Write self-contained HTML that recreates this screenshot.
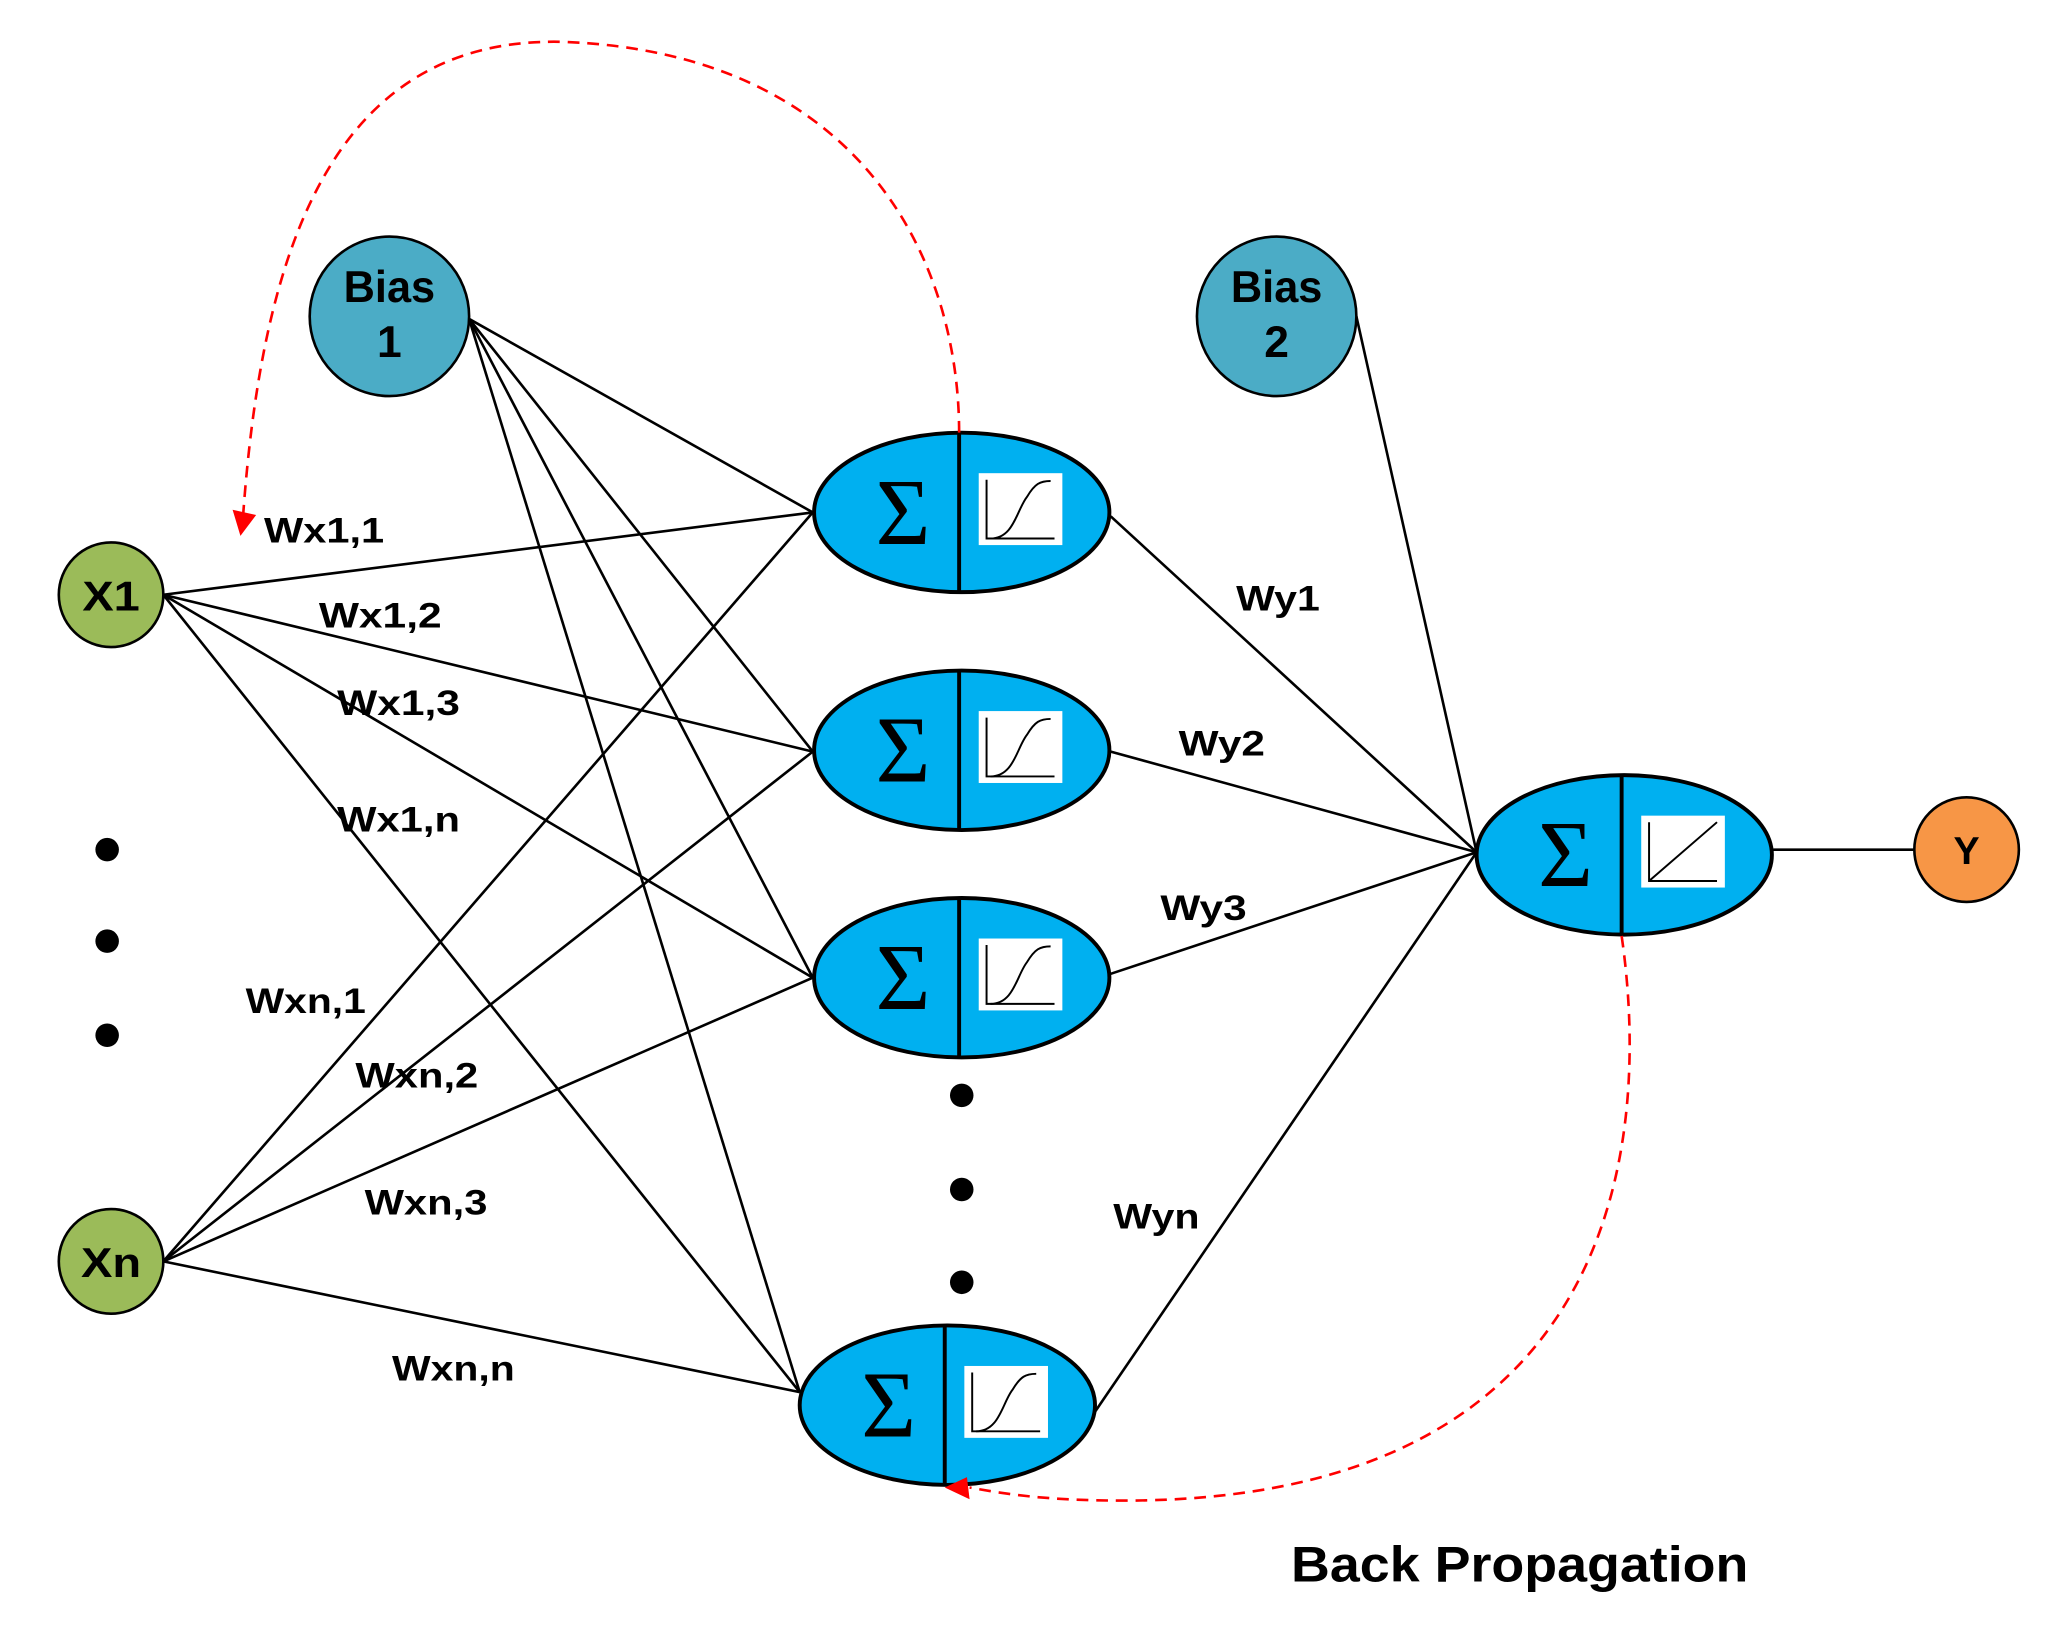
<!DOCTYPE html>
<html><head><meta charset="utf-8"><style>html,body{margin:0;padding:0;background:#fff}svg{display:block}</style></head>
<body>
<svg width="2045" height="1630" viewBox="0 0 1565 1247" preserveAspectRatio="none" xmlns="http://www.w3.org/2000/svg" font-family="Liberation Sans, sans-serif" font-weight="bold">
<g stroke="#000" stroke-width="2" fill="none">
<line x1="359" y1="244" x2="622" y2="392"/>
<line x1="359" y1="244" x2="622" y2="575"/>
<line x1="359" y1="244" x2="622" y2="748"/>
<line x1="359" y1="244" x2="612" y2="1065"/>
<line x1="125" y1="455" x2="622" y2="392"/>
<line x1="125" y1="455" x2="622" y2="575"/>
<line x1="125" y1="455" x2="622" y2="748"/>
<line x1="125" y1="455" x2="612" y2="1065"/>
<line x1="125" y1="965" x2="622" y2="392"/>
<line x1="125" y1="965" x2="622" y2="575"/>
<line x1="125" y1="965" x2="622" y2="748"/>
<line x1="125" y1="965" x2="612" y2="1065"/>
<line x1="850" y1="395" x2="1130" y2="652"/>
<line x1="850" y1="575" x2="1130" y2="652"/>
<line x1="850" y1="745" x2="1130" y2="652"/>
<line x1="838" y1="1080" x2="1130" y2="652"/>
<line x1="1038" y1="242" x2="1130" y2="652"/>
<line x1="1357" y1="650" x2="1465" y2="650"/>
</g>
<g stroke="#000" stroke-width="2">
<circle cx="298" cy="242" r="61" fill="#4bacc6"/>
<circle cx="977" cy="242" r="61" fill="#4bacc6"/>
<circle cx="85" cy="455" r="40" fill="#9bbb59"/>
<circle cx="85" cy="965" r="40" fill="#9bbb59"/>
<circle cx="1505" cy="650" r="40" fill="#f79646"/>
</g>
<g fill="#000">
<circle cx="82" cy="650" r="9"/><circle cx="82" cy="720" r="9"/><circle cx="82" cy="792" r="9"/>
<circle cx="736" cy="838" r="9"/><circle cx="736" cy="910" r="9"/><circle cx="736" cy="981" r="9"/>
</g>
<defs>
<g id="neu">
<ellipse cx="0" cy="0" rx="113" ry="61" fill="#00b0f0" stroke="#000" stroke-width="3"/>
<line x1="-2" y1="-61" x2="-2" y2="61" stroke="#000" stroke-width="3"/>
<text x="-45" y="24" font-family="Liberation Serif, serif" font-weight="normal" font-size="72" text-anchor="middle" fill="#000">Σ</text>
<rect x="13" y="-30" width="64" height="55" fill="#fff"/>
<path d="M19,-25 V20 H71" stroke="#000" stroke-width="1.5" fill="none"/>
</g>
</defs>
<g transform="translate(736,392)"><use href="#neu"/><path d="M22,20 C40,20 42,-2 50,-12 C56,-22 60,-24 68,-24" stroke="#000" stroke-width="1.5" fill="none"/></g>
<g transform="translate(736,574)"><use href="#neu"/><path d="M22,20 C40,20 42,-2 50,-12 C56,-22 60,-24 68,-24" stroke="#000" stroke-width="1.5" fill="none"/></g>
<g transform="translate(736,748)"><use href="#neu"/><path d="M22,20 C40,20 42,-2 50,-12 C56,-22 60,-24 68,-24" stroke="#000" stroke-width="1.5" fill="none"/></g>
<g transform="translate(725,1075)"><use href="#neu"/><path d="M22,20 C40,20 42,-2 50,-12 C56,-22 60,-24 68,-24" stroke="#000" stroke-width="1.5" fill="none"/></g>
<g transform="translate(1243,654)"><use href="#neu"/><line x1="19" y1="20" x2="71" y2="-25" stroke="#000" stroke-width="1.5"/></g>
<g fill="none" stroke="#ff0000" stroke-width="2" stroke-dasharray="9,6">
<path d="M734,331 C734,200 660,40 430,32 C250,28 200,200 186,395"/>
<path d="M1241,716 C1262,860 1250,1148 860,1148 C800,1148 770,1143 742,1138"/>
</g>
<polygon points="178,390 196,394 184,410" fill="#ff0000"/>
<polygon points="740,1130 742,1147 723,1138" fill="#ff0000"/>
<g fill="#000" font-size="34" text-anchor="middle">
<text x="298" y="231" textLength="70" lengthAdjust="spacingAndGlyphs">Bias</text><text x="298" y="273">1</text>
<text x="977" y="231" textLength="70" lengthAdjust="spacingAndGlyphs">Bias</text><text x="977" y="273">2</text>
<text x="85" y="467" font-size="32" textLength="44" lengthAdjust="spacingAndGlyphs">X1</text><text x="85" y="977" font-size="32" textLength="46" lengthAdjust="spacingAndGlyphs">Xn</text>
<text x="1505" y="661" font-size="30">Y</text>
</g>
<g fill="#000" font-size="27">
<text x="202" y="415" textLength="92" lengthAdjust="spacingAndGlyphs">Wx1,1</text>
<text x="244" y="480" textLength="94" lengthAdjust="spacingAndGlyphs">Wx1,2</text>
<text x="258" y="547" textLength="94" lengthAdjust="spacingAndGlyphs">Wx1,3</text>
<text x="258" y="636" textLength="94" lengthAdjust="spacingAndGlyphs">Wx1,n</text>
<text x="188" y="775" textLength="92" lengthAdjust="spacingAndGlyphs">Wxn,1</text>
<text x="272" y="832" textLength="94" lengthAdjust="spacingAndGlyphs">Wxn,2</text>
<text x="279" y="929" textLength="94" lengthAdjust="spacingAndGlyphs">Wxn,3</text>
<text x="300" y="1056" textLength="94" lengthAdjust="spacingAndGlyphs">Wxn,n</text>
<text x="946" y="467" textLength="64" lengthAdjust="spacingAndGlyphs">Wy1</text>
<text x="902" y="578" textLength="66" lengthAdjust="spacingAndGlyphs">Wy2</text>
<text x="888" y="704" textLength="66" lengthAdjust="spacingAndGlyphs">Wy3</text>
<text x="852" y="940" textLength="66" lengthAdjust="spacingAndGlyphs">Wyn</text>
<text x="988" y="1210" font-size="38" textLength="350" lengthAdjust="spacingAndGlyphs">Back Propagation</text>
</g>
</svg>
</body></html>
